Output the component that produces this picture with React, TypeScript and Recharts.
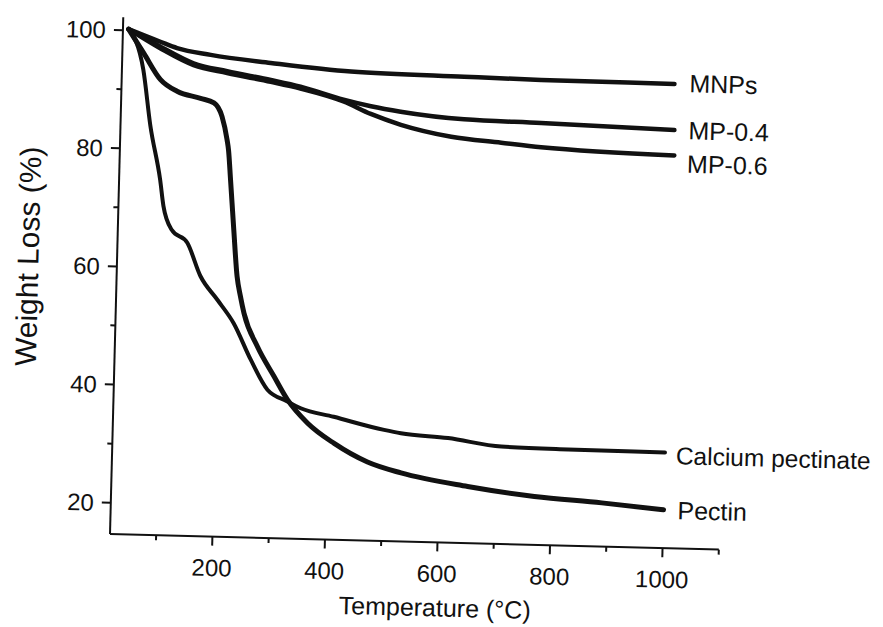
import React from 'react';
import { LineChart, Line, XAxis, YAxis, LabelList } from 'recharts';

const FONT = '"Liberation Sans", Arial, Helvetica, sans-serif';
const INK = '#111111';

// Temperature (°C) and weight (%) values
const mnpsTemp = [28, 85, 115, 175, 282, 425, 626, 763, 1000];
const mnpsWeight = [100.2, 98.2, 97.2, 96.2, 95.1, 94.0, 93.6, 93.4, 93.3];

const mp04Temp = [28, 85, 145, 205, 283, 336, 413, 462, 515, 628, 765, 1002];
const mp04Weight = [100.2, 97.4, 94.7, 93.5, 92.2, 91.2, 89.2, 88.2, 87.4, 86.4, 86.1, 85.5];

const mp06Temp = [28, 85, 145, 205, 283, 336, 413, 462, 516, 606, 695, 766, 1003];
const mp06Weight = [100.2, 97.1, 94.4, 93.2, 91.9, 90.9, 88.9, 86.9, 85.2, 83.4, 82.6, 82.0, 81.2];

const caTemp = [28, 56, 71, 91, 98, 114, 142, 167, 198, 228, 260, 291, 327, 351, 410, 500, 530, 614, 709, 828, 1000];
const caWeight = [100.2, 93.4, 84.0, 74.8, 70.4, 66.4, 64.3, 58.7, 54.8, 50.9, 44.8, 39.8, 37.9, 36.8, 35.5, 33.5, 33.0, 32.4, 31.2, 31.0, 30.9];

const pectinTemp = [28, 56, 87, 117, 159, 183, 198, 208, 211, 216, 224, 232, 239, 246, 271, 302, 327, 364, 412, 472, 532, 651, 770, 890, 1000];
const pectinWeight = [100.2, 96.2, 91.8, 89.9, 88.8, 88.1, 85.8, 81.9, 80.2, 75.1, 66.7, 58.8, 55.4, 52.6, 47.1, 42.1, 38.2, 34.3, 31.0, 28.0, 26.3, 24.3, 22.9, 22.1, 21.2];

const xTicks = [100, 200, 300, 400, 500, 600, 700, 800, 900, 1000, 1100];
const yTicks = [20, 30, 40, 50, 60, 70, 80, 90, 100];

const zip = (t: number[], w: number[]) => t.map((v, i) => ({ t: v, w: w[i] }));

const seriesList = [
  { name: 'MNPs', data: zip(mnpsTemp, mnpsWeight), width: 4.5, dx: 15, dy: -1 },
  { name: 'MP-0.4', data: zip(mp04Temp, mp04Weight), width: 4.5, dx: 14, dy: 0 },
  { name: 'MP-0.6', data: zip(mp06Temp, mp06Weight), width: 4.5, dx: 13, dy: 8 },
  { name: 'Calcium pectinate', data: zip(caTemp, caWeight), width: 4, dx: 11, dy: 3 },
  { name: 'Pectin', data: zip(pectinTemp, pectinWeight), width: 5, dx: 14, dy: 0 },
];

const YTick = (props: any) => {
  const { x, y, payload } = props;
  const v = payload.value;
  const major = v % 20 === 0;
  return (
    <g>
      <line x1={x - (major ? 9 : 5)} x2={x} y1={y} y2={y} stroke={INK} strokeWidth={2} />
      {major && (
        <text x={x - 17} y={y} textAnchor="end" dominantBaseline="central" fontSize={24} fill={INK} fontFamily={FONT}>
          {v}
        </text>
      )}
    </g>
  );
};

const XTick = (props: any) => {
  const { x, y, payload } = props;
  const v = payload.value;
  const major = v % 200 === 0;
  return (
    <g>
      <line x1={x} x2={x} y1={y} y2={y + (major ? 9 : 5)} stroke={INK} strokeWidth={2} />
      {major && (
        <text x={x} y={y + 31} textAnchor="middle" dominantBaseline="central" fontSize={24} fill={INK} fontFamily={FONT}>
          {v}
        </text>
      )}
    </g>
  );
};

export default function App() {
  return (
    <div
      style={{
        width: 875,
        height: 619,
        background: '#fff',
        transform: 'rotate(1.47deg)',
        transformOrigin: '102px 526px',
      }}
    >
      <LineChart width={875} height={619} margin={{ top: 9, right: 164, bottom: 8, left: 0 }}>
        <XAxis
          type="number"
          dataKey="t"
          domain={[18, 1100]}
          allowDataOverflow
          ticks={xTicks}
          interval={0}
          tickSize={0}
          tickMargin={0}
          tick={<XTick />}
          height={85}
          axisLine={{ stroke: INK, strokeWidth: 2 }}
          label={{
            content: (p: any) => {
              const vb = p.viewBox;
              return (
                <text
                  x={vb.x + vb.width / 2 + 22}
                  y={vb.y + 65}
                  textAnchor="middle"
                  dominantBaseline="central"
                  fontSize={25}
                  fill={INK}
                  fontFamily={FONT}
                >
                  Temperature (°C)
                </text>
              );
            },
          }}
        />
        <YAxis
          type="number"
          domain={[14.7, 102.2]}
          allowDataOverflow
          ticks={yTicks}
          interval={0}
          tickSize={0}
          tickMargin={0}
          tick={<YTick />}
          width={102}
          axisLine={{ stroke: INK, strokeWidth: 2 }}
          label={{
            content: (p: any) => {
              const vb = p.viewBox;
              return (
                <text
                  transform={`translate(${vb.x + 13}, ${vb.y + vb.height / 2 - 17}) rotate(-90)`}
                  textAnchor="middle"
                  dominantBaseline="central"
                  fontSize={30}
                  fill={INK}
                  fontFamily={FONT}
                >
                  Weight Loss (%)
                </text>
              );
            },
          }}
        />
        {seriesList.map((s) => (
          <Line
            key={s.name}
            data={s.data}
            dataKey="w"
            type="monotone"
            stroke={INK}
            strokeWidth={s.width}
            strokeLinecap="round"
            strokeLinejoin="round"
            dot={false}
            activeDot={false}
            isAnimationActive={false}
          >
            <LabelList
              dataKey="w"
              content={(p: any) =>
                p.index === s.data.length - 1 ? (
                  <text
                    x={p.x + s.dx}
                    y={p.y + s.dy}
                    dominantBaseline="central"
                    fontSize={s.name.length > 10 ? 24.5 : 25}
                    fill={INK}
                    fontFamily={FONT}
                  >
                    {s.name}
                  </text>
                ) : null
              }
            />
          </Line>
        ))}
      </LineChart>
    </div>
  );
}
